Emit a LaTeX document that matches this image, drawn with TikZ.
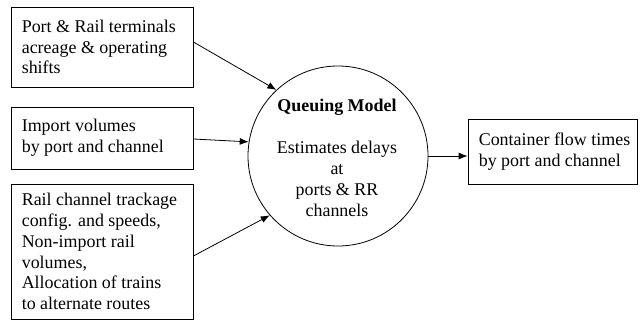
\documentclass[tikz,border=0pt]{standalone}
\usepackage{fontspec}
\setmainfont{Liberation Serif}
\usetikzlibrary{arrows.meta}
\begin{document}
\begin{tikzpicture}[x=1bp,y=1bp,
  frame/.style={draw, line width=0.8bp, inner sep=0pt},
  txt/.style={anchor=west, align=left, inner sep=0pt, font=\fontsize{18}{20.8}\selectfont},
  ctxt/.style={align=center, inner sep=0pt, font=\fontsize{18}{21}\selectfont},
  conn/.style={line width=0.8bp, -{Latex[length=9bp,width=7bp]}}]
\useasboundingbox (0,0) rectangle (644,320);
\node[frame, minimum width=182bp, minimum height=80bp] (b1) at (102,273) {};
\node[txt] (t1) at ([xshift=11bp]b1.west) {Port \& Rail terminals\\acreage \& operating\\shifts};
\node[frame, minimum width=182bp, minimum height=62bp] (b2) at (102,182) {};
\node[txt] (t2) at ([xshift=11bp]b2.west) {Import volumes\\by port and channel};
\node[frame, minimum width=182bp, minimum height=135bp] (b3) at (102,68.5) {};
\node[txt] (t3) at ([xshift=11bp]b3.west) {Rail channel trackage\\config. and speeds,\\Non-import rail\\volumes,\\Allocation of trains\\to alternate routes};
\node[frame, circle, minimum size=180bp] (q) at (338,164) {};
\node[ctxt] (qt) at (337,162) {\textbf{Queuing Model}\\[21bp]Estimates delays\\at\\ports \& RR\\channels};
\node[frame, minimum width=169bp, minimum height=65bp] (o) at (552.5,168.5) {};
\node[txt] (ot) at ([xshift=11bp]o.west) {Container flow times\\by port and channel};
\draw[conn] ([yshift=5bp]b1.east) -- (q.133);
\draw[conn] ([yshift=-1bp]b2.east) -- (q.171);
\draw[conn] ([yshift=-4.5bp]b3.east) -- (q.221);
\draw[conn] (q.east) -- (q.east -| o.west);
\end{tikzpicture}
\end{document}
